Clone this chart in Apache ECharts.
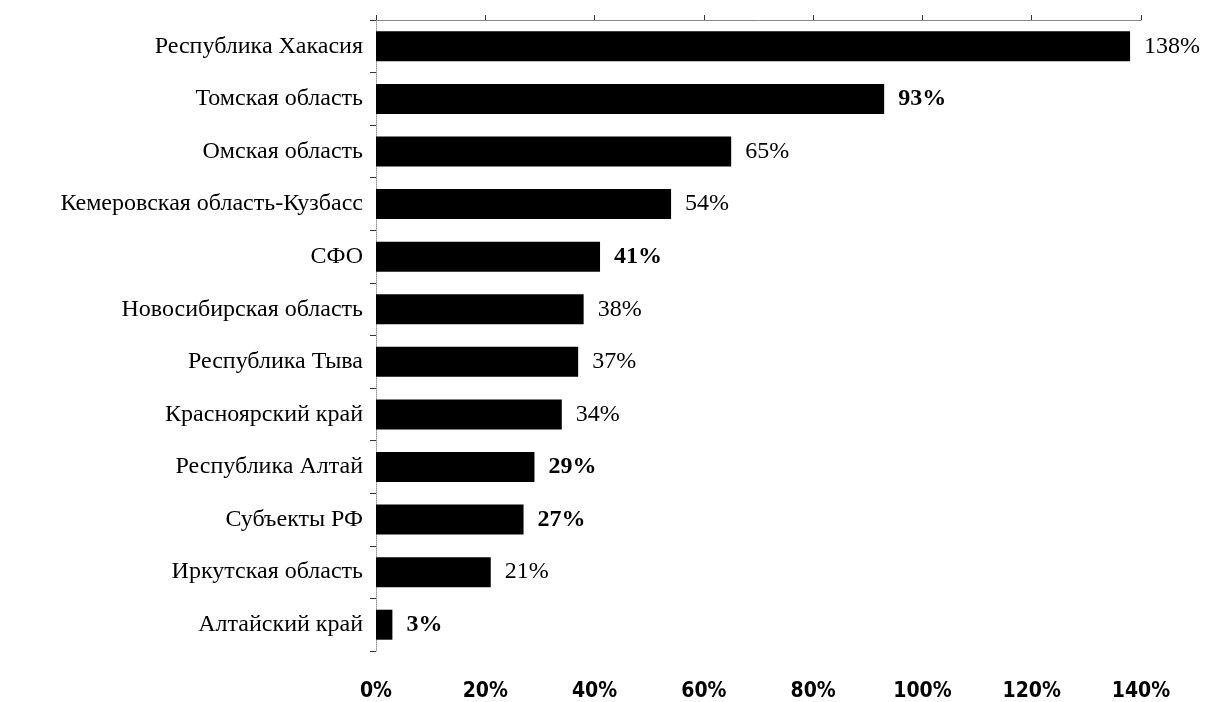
<!DOCTYPE html>
<html><head><meta charset="utf-8">
<script src="https://cdn.jsdelivr.net/npm/echarts@6/dist/echarts.min.js"></script>
<style>html,body{margin:0;padding:0;background:#fff}#c{width:1213px;height:702px}</style>
</head><body><div id="c"></div>
<script>
const categories = ['Республика Хакасия','Томская область','Омская область','Кемеровская область-Кузбасс','СФО','Новосибирская область','Республика Тыва','Красноярский край','Республика Алтай','Субъекты РФ','Иркутская область','Алтайский край'];
const values = [138, 93, 65, 54, 41, 38, 37, 34, 29, 27, 21, 3];
const boldLabels = [false, true, false, false, true, false, false, false, true, true, false, true];
const xTicks = [0, 20, 40, 60, 80, 100, 120, 140];

const chart = echarts.init(document.getElementById('c'), null, {renderer:'canvas'});
const serif = '"Liberation Serif","Times New Roman",serif';
chart.setOption({
  animation:false,
  backgroundColor:'#fff',
  grid:{left:376,right:72,top:20,bottom:48,containLabel:false},
  xAxis:[{
    type:'value', min:xTicks[0], max:xTicks[xTicks.length-1], interval:20, position:'bottom',
    axisLine:{show:false}, axisTick:{show:false}, splitLine:{show:false},
    axisLabel:{formatter:'{value}%', margin:30, color:'#000', fontSize:21, fontWeight:'bold',
      fontFamily:'"DejaVu Sans Condensed","Liberation Sans Narrow","DejaVu Sans",sans-serif'}
  },{
    type:'value', min:0, max:140, interval:20, position:'top',
    axisLine:{show:true, lineStyle:{color:'#888', width:1}},
    axisTick:{show:true, inside:false, length:5, lineStyle:{color:'#333'}},
    axisLabel:{show:false}, splitLine:{show:false}
  }],
  yAxis:{
    type:'category', data:categories, inverse:true,
    axisLine:{show:true, lineStyle:{color:'#999', width:1, type:'dotted'}},
    axisTick:{show:true, length:6, lineStyle:{color:'#333'}},
    axisLabel:{color:'#000', fontSize:24, fontFamily:serif, margin:13}
  },
  series:[{
    type:'bar', xAxisIndex:0, barWidth:30,
    itemStyle:{color:'#000'},
    data: values.map((v,i)=>({value:v, label:{fontWeight: boldLabels[i]?'bold':'normal'}})),
    label:{show:true, position:'right', distance:14, formatter:'{c}%', color:'#000', fontSize:24, fontFamily:serif}
  }]
});
</script></body></html>
